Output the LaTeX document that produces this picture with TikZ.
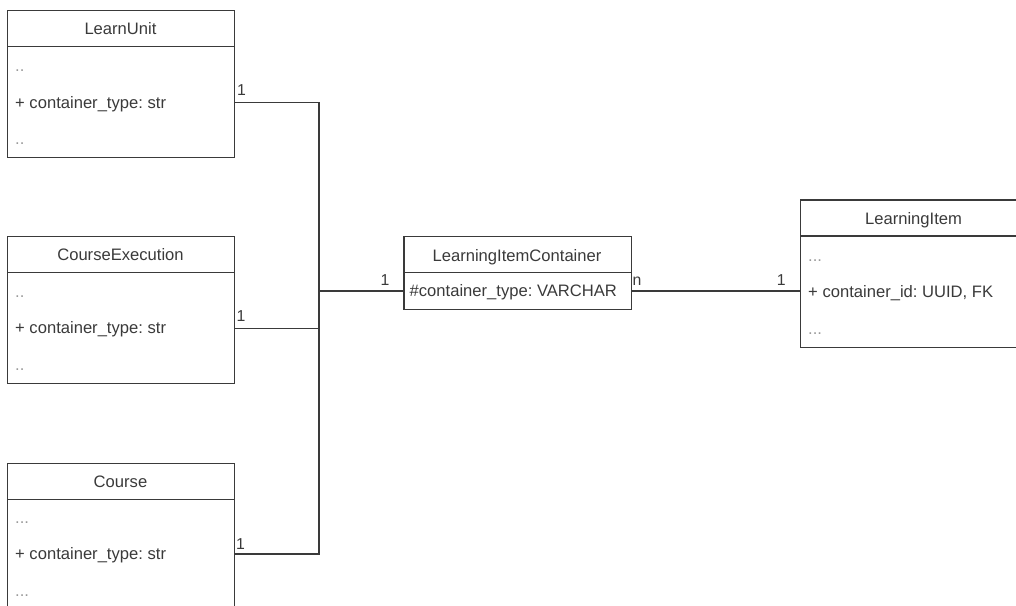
\documentclass[tikz,border=0pt]{standalone}
\usepackage{fontspec}
\setmainfont{Liberation Sans}
\frenchspacing
\definecolor{ink}{HTML}{3A3A3A}
\definecolor{faint}{HTML}{9A9A9A}
\tikzset{
  classbox/.style={draw=ink, line width=1.2pt, inner sep=0pt, anchor=north west,
    minimum width=227pt},
  divider/.style={draw=ink, line width=1.2pt},
  link/.style={draw=ink, line width=1.2pt},
  title/.style={text=ink, font=\fontsize{16.6}{20}\selectfont, anchor=base, inner sep=0pt},
  attr/.style={text=ink, font=\fontsize{16.6}{20}\selectfont, anchor=base west, inner sep=0pt},
  filler/.style={attr, text=faint},
  mult/.style={text=ink, font=\fontsize{15.8}{19}\selectfont, anchor=base west, inner sep=0pt},
}
\begin{document}
\begin{tikzpicture}[x=1pt,y=-1pt]
\clip (0,0) rectangle (1016,605);

% class boxes
\node[classbox, minimum height=147pt] (lu) at (7,9.5) {};
\node[classbox, minimum height=147pt] (ce) at (7,236) {};
\node[classbox, minimum height=170pt] (co) at (7,463) {};
\node[classbox, minimum width=227.2pt, minimum height=72.5pt] (lic) at (403.3,236) {};
\node[classbox, minimum height=147.5pt] (li) at (800,199.3) {};

% header dividers
\foreach \b in {lu,ce,co,lic,li}
  \draw[divider] ([yshift=-36.7pt]\b.north west) -- ([yshift=-36.7pt]\b.north east);

% LearnUnit
\node[title] (luT) at (120.5,34.3) {LearnUnit};
\node[filler] (luD1) at (15,71) {..};
\node[attr] (luA) at (15,108.5) {+ container\_type: str};
\node[filler] (luD2) at (15,144) {..};

% CourseExecution
\node[title] (ceT) at (120.5,260.5) {CourseExecution};
\node[filler] (ceD1) at (15,297) {..};
\node[attr] (ceA) at (15,333.8) {+ container\_type: str};
\node[filler] (ceD2) at (15,370.5) {..};

% Course
\node[title] (coT) at (120.5,487) {Course};
\node[filler] (coD1) at (15,523.5) {...};
\node[attr] (coA) at (15,559) {+ container\_type: str};
\node[filler] (coD2) at (15,596.5) {...};

% LearningItemContainer
\node[title] (licT) at (517,261) {LearningItemContainer};
\node[attr] (licA) at (409.5,296.7) {\#container\_type: VARCHAR};

% LearningItem
\node[title] (liT) at (913.5,224.3) {LearningItem};
\node[filler] (liD1) at (808,261) {...};
\node[attr] (liA) at (808,297.3) {+ container\_id: UUID, FK};
\node[filler] (liD2) at (808,334) {...};

% connection points
\coordinate (luP) at ([yshift=-92.8pt]lu.north east);
\coordinate (ceP) at ([yshift=-92.3pt]ce.north east);
\coordinate (coP) at ([yshift=-91pt]co.north east);
\coordinate (j) at (319,290.9);

% connectors
\draw[link] (luP) -| (j);
\draw[link] (ceP) -| (j);
\draw[link] (coP) -| (j);
\draw[link] (j) -- (lic.west |- j);
\draw[link] (lic.east |- j) -- (li.west |- j);

% multiplicities
\node[mult] (m1) at (236.8,95) {1};
\node[mult] (m2) at (236.5,321.7) {1};
\node[mult] (m3) at (236,549) {1};
\node[mult] (m4) at (380.5,285.3) {1};
\node[mult] (m5) at (632.5,285.7) {n};
\node[mult] (m6) at (776.6,285) {1};
\end{tikzpicture}
\end{document}
